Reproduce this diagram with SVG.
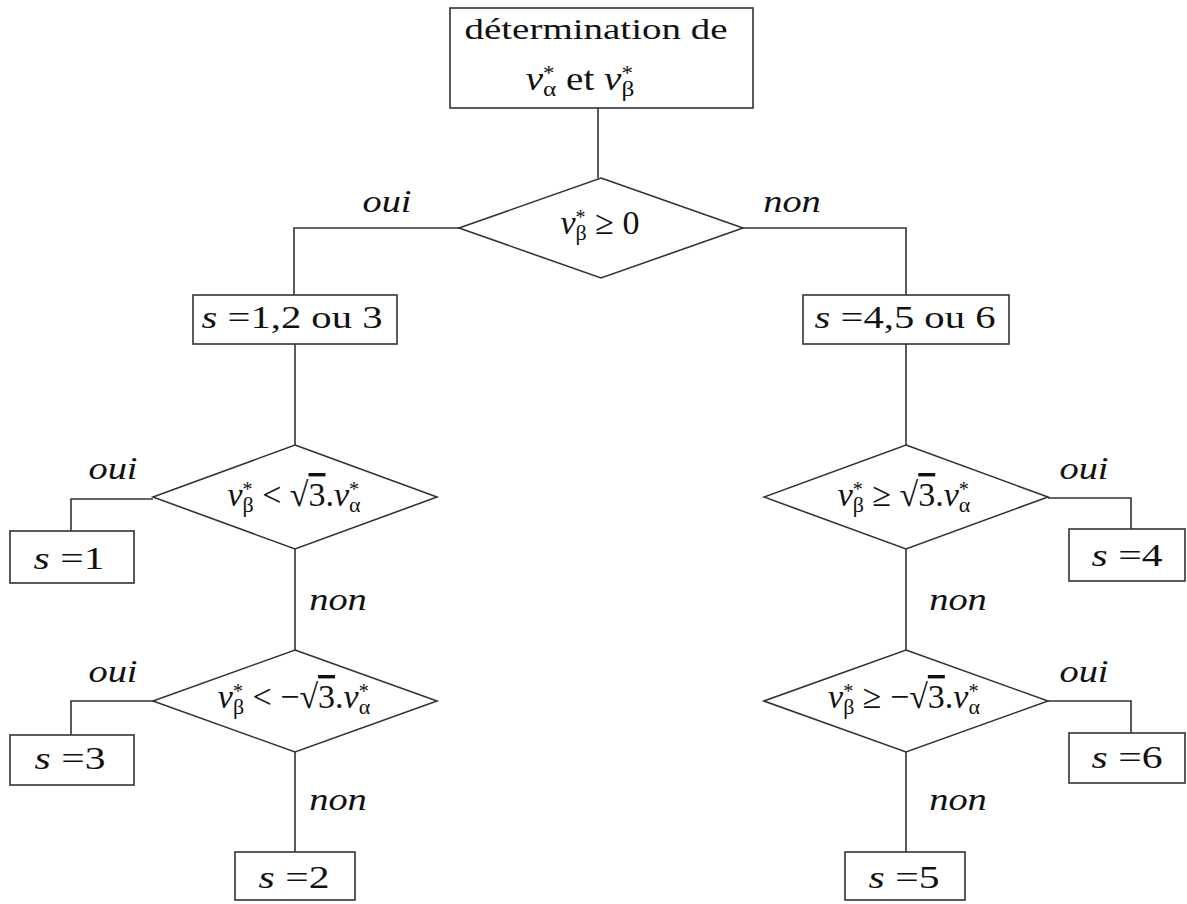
<svg xmlns="http://www.w3.org/2000/svg" width="1187" height="904" viewBox="0 0 1187 904">
<style>
.box{fill:#fff;stroke:#333;stroke-width:1.6}
.dia{fill:#fff;stroke:#333;stroke-width:1.6}
.con{fill:none;stroke:#333;stroke-width:1.6}
text{font-family:"Liberation Serif","Times New Roman",serif;font-size:32px;fill:#111;text-anchor:middle}
.m{font-size:34px}
.it{font-style:italic}
.sup{font-size:20px}
.sub{font-size:22px}
.lbl{font-style:italic}
.ov{text-decoration:overline}
</style>
<rect width="1187" height="904" fill="#fff"/>
<g id="connectors">
<path class="con" d="M598,108 V178"/>
<path class="con" d="M459,228 H294 V295"/>
<path class="con" d="M743,228 H906 V295"/>
<path class="con" d="M295,344 V445"/>
<path class="con" d="M906,344 V445"/>
<path class="con" d="M153,499 H71 V531"/>
<path class="con" d="M295,549 V650"/>
<path class="con" d="M153,701 H71 V735"/>
<path class="con" d="M295,752 V852"/>
<path class="con" d="M1048,498 H1131 V529"/>
<path class="con" d="M906,549 V650"/>
<path class="con" d="M1048,701 H1131 V733"/>
<path class="con" d="M906,752 V852"/>
<text class="lbl" transform="translate(387,212) scale(1.2,1)">oui</text>
<text class="lbl" transform="translate(792,212) scale(1.2,1)">non</text>
<text class="lbl" transform="translate(113,479) scale(1.2,1)">oui</text>
<text class="lbl" transform="translate(338,610) scale(1.2,1)">non</text>
<text class="lbl" transform="translate(113,682) scale(1.2,1)">oui</text>
<text class="lbl" transform="translate(338,810) scale(1.2,1)">non</text>
<text class="lbl" transform="translate(1084,479) scale(1.2,1)">oui</text>
<text class="lbl" transform="translate(958,610) scale(1.2,1)">non</text>
<text class="lbl" transform="translate(1084,682) scale(1.2,1)">oui</text>
<text class="lbl" transform="translate(958,810) scale(1.2,1)">non</text>
</g>
<g id="n-start">
<rect class="box" x="450" y="8" width="303" height="100"/>
<text transform="translate(596,39) scale(1.3,1)" style="font-size:30px">détermination de</text>
<text class="m" transform="translate(580,90) scale(1.15,1)"><tspan class="it">v</tspan><tspan class="sup" dy="-10">*</tspan><tspan class="sub" dx="-10" dy="16">α</tspan><tspan dy="-6"> et </tspan><tspan class="it">v</tspan><tspan class="sup" dy="-10">*</tspan><tspan class="sub" dx="-10" dy="16">β</tspan></text>
</g>
<g id="d-top">
<polygon class="dia" points="601,178 743,228 601,278 459,228"/>
<text class="m" transform="translate(600,234) scale(1.0,1)"><tspan class="it">v</tspan><tspan class="sup" dy="-10">*</tspan><tspan class="sub" dx="-10" dy="16">β</tspan><tspan dy="-6"> ≥ 0</tspan></text>
</g>
<g id="n-123">
<rect class="box" x="193" y="295" width="204" height="49"/>
<text transform="translate(292,328) scale(1.27,1)"><tspan class="it">s</tspan> =1,2 ou 3</text>
</g>
<g id="n-456">
<rect class="box" x="803" y="295" width="206" height="49"/>
<text transform="translate(905,328) scale(1.27,1)"><tspan class="it">s</tspan> =4,5 ou 6</text>
</g>
<g id="d-l1">
<polygon class="dia" points="295,445 437,497 295,549 153,497"/>
<text class="m" transform="translate(294,506) scale(1.0,1)"><tspan class="it">v</tspan><tspan class="sup" dy="-10">*</tspan><tspan class="sub" dx="-10" dy="16">β</tspan><tspan dy="-6"> &lt; √</tspan><tspan class="ov">3</tspan><tspan>.</tspan><tspan class="it">v</tspan><tspan class="sup" dy="-10">*</tspan><tspan class="sub" dx="-10" dy="16">α</tspan></text>
</g>
<g id="d-l2">
<polygon class="dia" points="295,650 437,701 295,752 153,701"/>
<text class="m" transform="translate(294,708) scale(1.0,1)"><tspan class="it">v</tspan><tspan class="sup" dy="-10">*</tspan><tspan class="sub" dx="-10" dy="16">β</tspan><tspan dy="-6"> &lt; −√</tspan><tspan class="ov">3</tspan><tspan>.</tspan><tspan class="it">v</tspan><tspan class="sup" dy="-10">*</tspan><tspan class="sub" dx="-10" dy="16">α</tspan></text>
</g>
<g id="d-r1">
<polygon class="dia" points="906,445 1048,497 906,549 764,497"/>
<text class="m" transform="translate(904,506) scale(1.0,1)"><tspan class="it">v</tspan><tspan class="sup" dy="-10">*</tspan><tspan class="sub" dx="-10" dy="16">β</tspan><tspan dy="-6"> ≥ √</tspan><tspan class="ov">3</tspan><tspan>.</tspan><tspan class="it">v</tspan><tspan class="sup" dy="-10">*</tspan><tspan class="sub" dx="-10" dy="16">α</tspan></text>
</g>
<g id="d-r2">
<polygon class="dia" points="906,650 1048,701 906,752 764,701"/>
<text class="m" transform="translate(904,708) scale(1.0,1)"><tspan class="it">v</tspan><tspan class="sup" dy="-10">*</tspan><tspan class="sub" dx="-10" dy="16">β</tspan><tspan dy="-6"> ≥ −√</tspan><tspan class="ov">3</tspan><tspan>.</tspan><tspan class="it">v</tspan><tspan class="sup" dy="-10">*</tspan><tspan class="sub" dx="-10" dy="16">α</tspan></text>
</g>
<g id="n-s1">
<rect class="box" x="10" y="531" width="124" height="52"/>
<text transform="translate(69,569) scale(1.3,1)"><tspan class="it">s</tspan> =1</text>
</g>
<g id="n-s3">
<rect class="box" x="10" y="735" width="124" height="50"/>
<text transform="translate(70,769) scale(1.3,1)"><tspan class="it">s</tspan> =3</text>
</g>
<g id="n-s2">
<rect class="box" x="235" y="852" width="120" height="48"/>
<text transform="translate(294,888) scale(1.3,1)"><tspan class="it">s</tspan> =2</text>
</g>
<g id="n-s4">
<rect class="box" x="1069" y="529" width="116" height="52"/>
<text transform="translate(1127,566) scale(1.3,1)"><tspan class="it">s</tspan> =4</text>
</g>
<g id="n-s6">
<rect class="box" x="1069" y="733" width="116" height="50"/>
<text transform="translate(1127,768) scale(1.3,1)"><tspan class="it">s</tspan> =6</text>
</g>
<g id="n-s5">
<rect class="box" x="845" y="852" width="120" height="48"/>
<text transform="translate(904,888) scale(1.3,1)"><tspan class="it">s</tspan> =5</text>
</g>
</svg>
